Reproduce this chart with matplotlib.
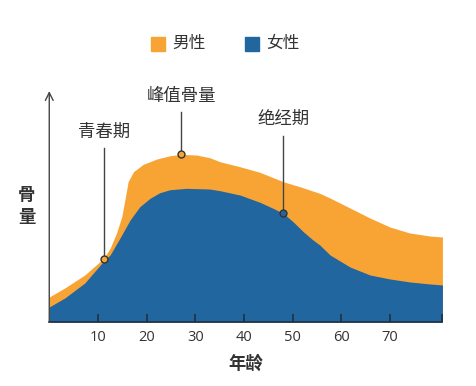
import matplotlib
matplotlib.use("Agg")
import matplotlib.pyplot as plt
from matplotlib.patches import Rectangle

plt.rcParams['font.family'] = ['Open Sans', 'Noto Sans CJK SC', 'DejaVu Sans']

# data (bone mass, arbitrary units)
male_age = [0, 3.2, 7.3, 11.2, 12.5, 13.8, 14.9, 15.6, 16.2, 17.3, 19.3, 22.1, 24.8,
            27.1, 30.3, 33, 35.1, 39.2, 43.3, 48.1, 51.5, 55.6, 57.7, 61.8, 65.9,
            70, 74.1, 78.2, 80.8]
male_val = [25, 34, 47, 63.7, 73.7, 88.7, 105.3, 123.7, 140.3, 150.3, 157.7, 163, 166.3,
            167.7, 167, 164.3, 160.3, 155.3, 149.7, 140.3, 135.3, 128.7, 124, 114, 104,
            95, 89, 86, 85]
female_age = [0, 3.2, 7.3, 11.2, 12.5, 14.5, 16.6, 18.6, 20.7, 22.7, 24.8, 28.2, 33,
              35.1, 39.2, 43.3, 46, 48.1, 50.1, 52.2, 54.2, 55.6, 57.7, 61.8, 65.9,
              70, 74.1, 78.2, 80.8]
female_val = [15, 24, 39, 61, 67, 83.7, 102, 115.3, 123.7, 129.3, 132.3, 133.7, 133,
              131.3, 127, 119.7, 113.7, 108.7, 100.3, 90.3, 82, 77, 67, 55, 47,
              43, 40, 38, 37]

xticks = [10, 20, 30, 40, 50, 60, 70]
labels = ['男性', '女性']
# (text, age, point value, line top, text centre)
notes = [('青春期', 11.2, 62.5, 174, 189),
         ('峰值骨量', 27.1, 167.7, 210, 225),
         ('绝经期', 48.1, 108.7, 186, 202)]

orange = '#F8A435'
blue = '#2266A0'
dark = '#333333'

fig = plt.figure(figsize=(4.76, 3.86), dpi=100)
ax = fig.add_axes([0.1035, 0.166, 0.826, 0.598])

ax.fill_between(male_age, 0, male_val, color=orange, lw=0)
ax.fill_between(female_age, 0, female_val, color=blue, lw=0)

ax.set_xlim(0, 80.8)
ax.set_ylim(0, 231)

for s in ['top', 'right', 'left']:
    ax.spines[s].set_visible(False)
ax.spines['bottom'].set_color('#1f2f44')
ax.spines['bottom'].set_linewidth(1.2)
ax.set_yticks([])
ax.set_xticks(xticks + [80.8])
ax.set_xticklabels([str(t) for t in xticks] + [''])
ax.tick_params(axis='x', direction='in', length=6, width=1.2, color='#1f2f44',
               labelsize=10.5, labelcolor=dark, pad=6)

# y axis arrow
ax.annotate('', xy=(0, 1.0), xytext=(0, 0), xycoords='axes fraction',
            arrowprops=dict(arrowstyle='->', color='#444444', lw=1.0,
                            mutation_scale=14, shrinkA=0, shrinkB=0))

# annotations
for txt, a, v, top, yc in notes:
    mcol = blue if txt == '绝经期' else orange
    ax.plot([a, a], [v, top], color='#444444', lw=1.0)
    ax.plot(a, v, 'o', ms=5, mfc=mcol, mec='#333333', mew=1.0)
    ax.text(a, yc, txt, ha='center', va='center', fontsize=12.5, color=dark)

ax.set_xlabel('年龄', fontsize=12.5, fontweight='bold', color=dark, labelpad=7)
fig.text(0.056, 0.466, '骨\n量', ha='center', va='center', fontsize=12.5,
         fontweight='bold', color=dark, linespacing=1.25)

# legend
for lab, col, xp in [(labels[0], orange, 0.317), (labels[1], blue, 0.515)]:
    fig.patches.append(Rectangle((xp, 0.868), 0.030, 0.037, transform=fig.transFigure,
                                 color=col, figure=fig))
    fig.text(xp + 0.044, 0.887, lab, ha='left', va='center', fontsize=12, color=dark)

fig.savefig('out.png', dpi=100)
